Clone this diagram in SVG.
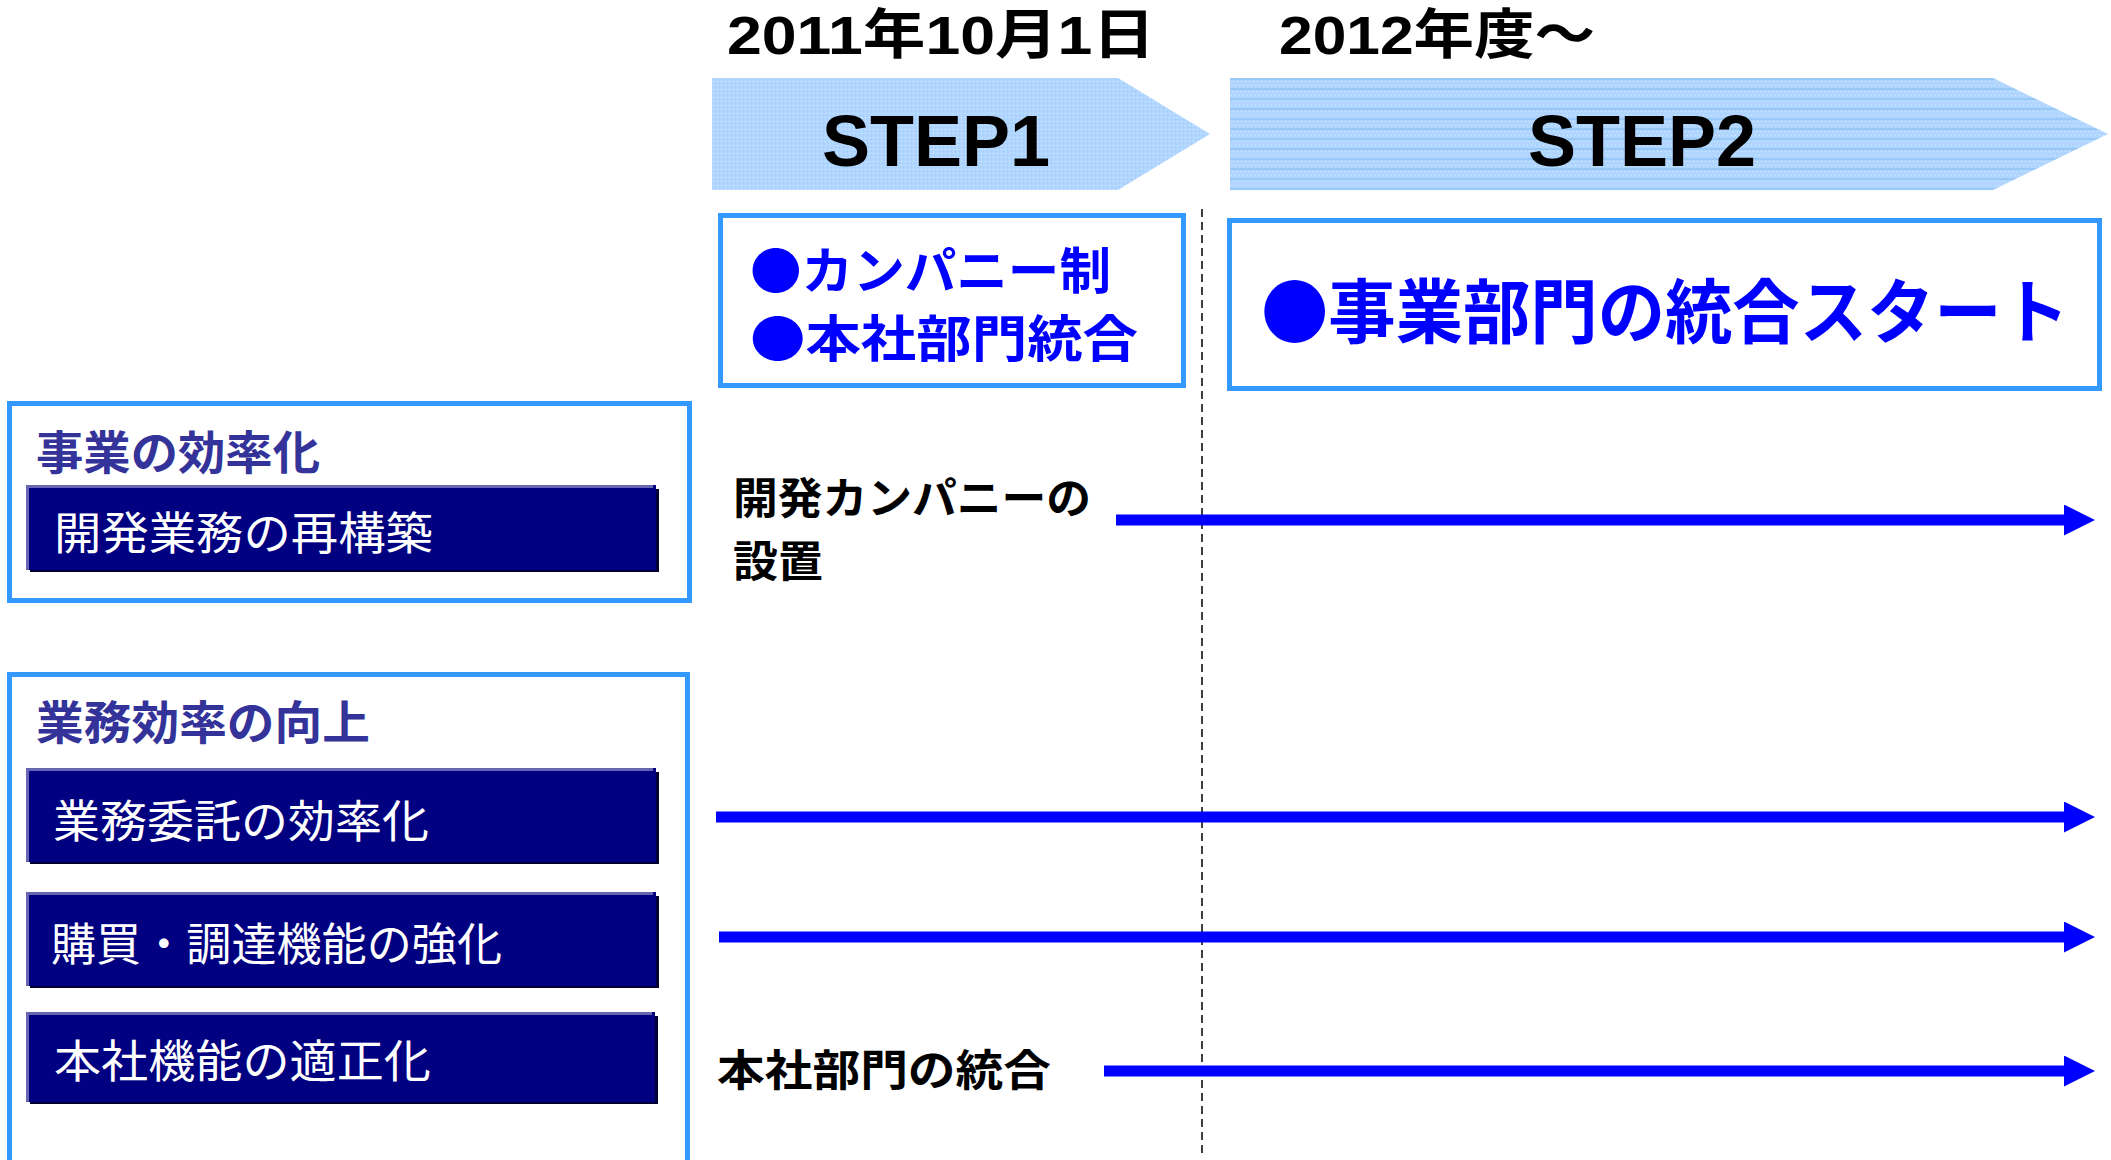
<svg xmlns="http://www.w3.org/2000/svg" width="2111" height="1160" viewBox="0 0 2111 1160">
<defs>
<pattern id="dots" width="4" height="4" patternUnits="userSpaceOnUse">
<rect width="4" height="4" fill="#b0d6ff"/>
<rect x="1" y="1" width="1" height="1" fill="#d6eaff"/>
<rect x="3" y="3" width="1" height="1" fill="#9fcdfb"/>
</pattern>
<pattern id="stripes" width="4" height="10" patternUnits="userSpaceOnUse">
<rect width="4" height="10" fill="#b0d6ff"/>
<rect x="1" y="1" width="1" height="1" fill="#d6eaff"/>
<rect x="3" y="5" width="1" height="1" fill="#d6eaff"/>
<rect y="8" width="4" height="2" fill="#98c8f6"/>
</pattern>
<marker id="ah" viewBox="0 0 31 31" refX="0" refY="15.5" markerWidth="31" markerHeight="31" markerUnits="userSpaceOnUse" orient="auto">
<path d="M0,0 L31,15.5 L0,31 Z" fill="#0000ff"/>
</marker>
<style>
.jp{font-family:"Noto Sans CJK JP","Liberation Sans",sans-serif;}
.date{font-family:"Liberation Sans","Noto Sans CJK JP",sans-serif;font-weight:bold;font-size:54px;fill:#000;}
.step{font-family:"Liberation Sans",Arial,sans-serif;font-weight:bold;font-size:72px;fill:#000;}
.frame{fill:#fff;stroke:#3399ff;stroke-width:5;}
.blue{font-weight:bold;fill:#0000ff;}
.hdr{font-weight:bold;font-size:46px;fill:#333399;}
.bartxt{font-size:45px;fill:#fff;}
.lbl{font-weight:bold;font-size:43px;fill:#000;}
.conn{stroke:#0000ff;stroke-width:11;fill:none;marker-end:url(#ah);}
.shadow{fill:#000033;}
.bar{fill:#000080;}
.barhl{fill:none;stroke:#6666b3;stroke-width:3;}
</style>
</defs>
<rect width="2111" height="1160" fill="#fff"/>

<g id="date1"><text class="date" x="727" y="54" textLength="428" lengthAdjust="spacingAndGlyphs">2011年10月1日</text></g>
<g id="date2"><text class="date" x="1279" y="54" textLength="316" lengthAdjust="spacingAndGlyphs">2012年度～</text></g>

<g id="step1">
<polygon points="712,78 1118,78 1210,134 1118,190 712,190" fill="url(#dots)"/>
<text class="step" x="936" y="166" text-anchor="middle">STEP1</text>
</g>
<g id="step2">
<polygon points="1230,78 1993,78 2108,134 1993,190 1230,190" fill="url(#stripes)"/>
<text class="step" x="1642" y="166" text-anchor="middle">STEP2</text>
</g>

<g id="divider"><line x1="1202" y1="209" x2="1202" y2="1158" stroke="#000" stroke-width="1.5" stroke-dasharray="8,5"/></g>

<g id="box-step1">
<rect class="frame" x="720.5" y="215.5" width="463" height="170"/>
<text class="jp blue" font-size="50" x="750" y="289" textLength="361" lengthAdjust="spacingAndGlyphs">●カンパニー制</text>
<text class="jp blue" font-size="50" x="750" y="357" textLength="388" lengthAdjust="spacingAndGlyphs">●本社部門統合</text>
</g>
<g id="box-step2">
<rect class="frame" x="1229.5" y="220.5" width="870" height="168"/>
<text class="jp blue" font-size="70" x="1261" y="338" textLength="808" lengthAdjust="spacingAndGlyphs">●事業部門の統合スタート</text>
</g>

<g id="group-efficiency">
<rect class="frame" x="9.5" y="403.5" width="680" height="197"/>
<text class="jp hdr" x="36" y="469" textLength="284" lengthAdjust="spacingAndGlyphs">事業の効率化</text>
</g>
<g id="item-dev">
<rect class="shadow" x="30" y="489" width="629" height="83"/>
<rect class="bar" x="26" y="485" width="630" height="85"/>
<polyline class="barhl" points="27.5,570 27.5,486.5 653,486.5"/>
<text class="jp bartxt" x="54" y="550" textLength="379" lengthAdjust="spacingAndGlyphs">開発業務の再構築</text>
</g>

<g id="group-operations">
<rect class="frame" x="9.5" y="674.5" width="678" height="520"/>
<text class="jp hdr" x="36" y="739" textLength="334" lengthAdjust="spacingAndGlyphs">業務効率の向上</text>
</g>
<g id="item-outsourcing">
<rect class="shadow" x="30" y="772" width="629" height="92"/>
<rect class="bar" x="26" y="768" width="630" height="94"/>
<polyline class="barhl" points="27.5,862 27.5,769.5 653,769.5"/>
<text class="jp bartxt" x="53" y="838" textLength="376" lengthAdjust="spacingAndGlyphs">業務委託の効率化</text>
</g>
<g id="item-procurement">
<rect class="shadow" x="30" y="896" width="629" height="92"/>
<rect class="bar" x="26" y="892" width="630" height="94"/>
<polyline class="barhl" points="27.5,986 27.5,893.5 653,893.5"/>
<text class="jp bartxt" x="51" y="961" textLength="451" lengthAdjust="spacingAndGlyphs">購買・調達機能の強化</text>
</g>
<g id="item-hq">
<rect class="shadow" x="30" y="1016" width="628" height="88"/>
<rect class="bar" x="26" y="1012" width="629" height="90"/>
<polyline class="barhl" points="27.5,1102 27.5,1013.5 652,1013.5"/>
<text class="jp bartxt" x="54" y="1078" textLength="377" lengthAdjust="spacingAndGlyphs">本社機能の適正化</text>
</g>

<g id="label-dev">
<text class="jp lbl" x="733" y="514" textLength="358" lengthAdjust="spacingAndGlyphs">開発カンパニーの</text>
<text class="jp lbl" x="733" y="577" textLength="90" lengthAdjust="spacingAndGlyphs">設置</text>
</g>
<g id="label-hq">
<text class="jp lbl" x="717" y="1086" textLength="334" lengthAdjust="spacingAndGlyphs">本社部門の統合</text>
</g>

<g id="connectors">
<line class="conn" x1="1116" y1="520" x2="2064" y2="520"/>
<line class="conn" x1="716" y1="817" x2="2064" y2="817"/>
<line class="conn" x1="719" y1="937" x2="2064" y2="937"/>
<line class="conn" x1="1104" y1="1071" x2="2064" y2="1071"/>
</g>
</svg>
